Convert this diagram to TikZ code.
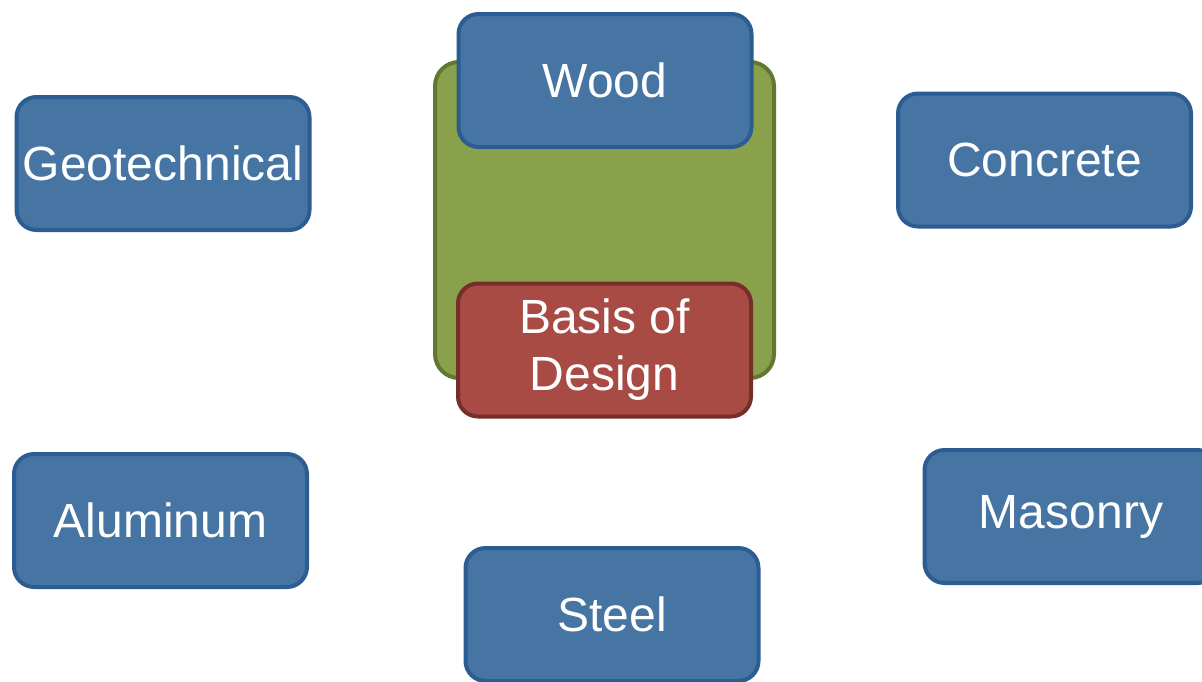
\documentclass[tikz,border=0pt]{standalone}
\usepackage{fontspec}
\setmainfont{Liberation Sans}
\definecolor{bfill}{RGB}{70,116,163}
\definecolor{bline}{RGB}{44,93,146}
\definecolor{gfill}{RGB}{138,161,76}
\definecolor{gline}{RGB}{98,120,50}
\definecolor{rfill}{RGB}{168,75,69}
\definecolor{rline}{RGB}{118,46,43}
\tikzset{
  card/.style={draw=bline, fill=bfill, line width=4pt, rounded corners=20pt,
    minimum width=293pt, minimum height=133pt, text=white, inner sep=0pt,
    font=\fontsize{48}{57}\selectfont, align=center},
  redcard/.style={card, draw=rline, fill=rfill},
}
\begin{document}
\begin{tikzpicture}[x=1pt,y=-1pt]
\useasboundingbox (0,0) rectangle (1202,681);
\clip (0,0) rectangle (1202,681);
\fill[white] (0,0) rectangle (1202,681);
\draw[draw=gline, fill=gfill, line width=4pt, rounded corners=24pt] (435,62) rectangle (774,378);
\node[card] (wood) at (605,80.5) {\raisebox{-2pt}{Wood}};
\node[redcard] (basis) at (604.5,350) {\raisebox{-4pt}{Basis of}\\\raisebox{-4pt}{Design}};
\node[card] (geo) at (163,163.5) {\raisebox{-2pt}{Geotechnical}};
\node[card] (concrete) at (1044.5,160) {\raisebox{-2pt}{Concrete}};
\node[card] (aluminum) at (160.5,520.5) {\raisebox{-2pt}{Aluminum}};
\node[card] (masonry) at (1071,516.5) {\raisebox{-2pt}{Masonry}};
\node[card] (steel) at (612,614.5) {\raisebox{-2pt}{Steel}};
\end{tikzpicture}
\end{document}
